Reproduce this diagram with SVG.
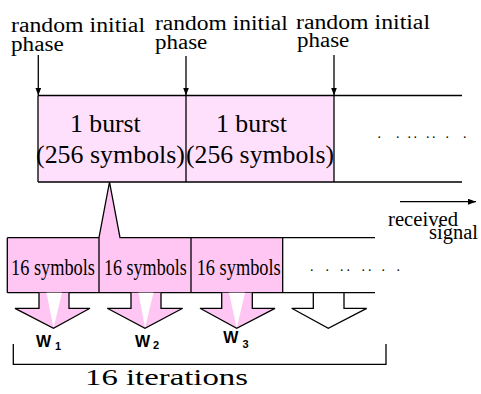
<svg xmlns="http://www.w3.org/2000/svg" width="481" height="394" viewBox="0 0 481 394">
<style>
.ln{stroke:#000;stroke-width:1.3;fill:none}
.t{font-family:'Liberation Serif','Times New Roman','DejaVu Serif',serif;fill:#000}
.w{font-family:'Liberation Sans',Arial,sans-serif;font-weight:bold;fill:#000}
.pk{fill:#ffc6f3}
</style>
<defs>
<marker id="ah" markerWidth="8" markerHeight="6" refX="8" refY="3" orient="auto" markerUnits="userSpaceOnUse">
<path d="M0,0 L8,3 L0,6 Z" fill="#000"/>
</marker>
</defs>
<rect width="481" height="394" fill="#fff"/>

<g id="labels" font-family="Liberation Serif, Times New Roman, serif">
<text class="t" font-size="20" x="11" y="32.3" textLength="134" lengthAdjust="spacingAndGlyphs">random initial</text>
<text class="t" font-size="20" x="11" y="51" textLength="52.7" lengthAdjust="spacingAndGlyphs">phase</text>
<text class="t" font-size="20" x="155" y="30" textLength="132.7" lengthAdjust="spacingAndGlyphs">random initial</text>
<text class="t" font-size="20" x="155" y="49" textLength="52.3" lengthAdjust="spacingAndGlyphs">phase</text>
<text class="t" font-size="20" x="296" y="28.5" textLength="134" lengthAdjust="spacingAndGlyphs">random initial</text>
<text class="t" font-size="20" x="297" y="47" textLength="52.3" lengthAdjust="spacingAndGlyphs">phase</text>
</g>

<g id="burst1">
<rect x="38" y="95.5" width="148" height="86.5" fill="#ffe0fc"/>
<text class="t" font-size="25" x="70" y="131.7" textLength="70.7" lengthAdjust="spacingAndGlyphs">1 burst</text>
<text class="t" font-size="25" x="36" y="162.7" textLength="149" lengthAdjust="spacingAndGlyphs">(256 symbols)</text>
</g>
<g id="burst2">
<rect x="186" y="95.5" width="148" height="86.5" fill="#ffe0fc"/>
<text class="t" font-size="25" x="216" y="131.7" textLength="71" lengthAdjust="spacingAndGlyphs">1 burst</text>
<text class="t" font-size="25" x="186" y="162.7" textLength="148" lengthAdjust="spacingAndGlyphs">(256 symbols)</text>
</g>
<g id="burst-frame">
<path class="ln" d="M38,95.5 H462 M38,182 H462 M38,95.5 V182 M186,95.5 V182 M334,95.5 V182"/>
<text class="t" font-size="14" y="137.5" x="377.5 396 407.5 413.5 426 432 445.5 463">........</text>
</g>

<g id="seg1">
<rect x="7.3" y="237.7" width="91.7" height="55" class="pk"/>
<text class="t" font-size="24" x="11" y="275" textLength="84" lengthAdjust="spacingAndGlyphs">16 symbols</text>
</g>
<g id="seg2">
<rect x="99" y="237.7" width="92" height="55" class="pk"/>
<polygon points="99,238 109.5,182 120,238" class="pk"/>
<text class="t" font-size="24" x="104" y="275" textLength="82.7" lengthAdjust="spacingAndGlyphs">16 symbols</text>
</g>
<g id="seg3">
<rect x="191" y="237.7" width="91.7" height="55" class="pk"/>
<text class="t" font-size="24" x="196.7" y="275" textLength="84" lengthAdjust="spacingAndGlyphs">16 symbols</text>
</g>
<g id="seg-frame">
<path class="ln" d="M7.3,237.7 H99 L109.5,182 L120,237.7 H375 M7.3,292.7 H375 M7.3,237.7 V292.7 M99,237.7 V292.7 M191,237.7 V292.7 M282.7,237.7 V292.7"/>
<text class="t" font-size="14" y="271" x="310 325.5 340 346.5 361.5 368 381.5 396.5">........</text>
</g>

<g id="w1">
<path d="M39,292.7 V308.3 H15 L53.5,328.3 L90,308.3 H69 V292.7 Z" class="pk"/>
<polygon points="46.5,292.7 62,292.7 53.5,328" fill="#fff"/>
<path class="ln" d="M39,292.7 V308.3 H15 L53.5,328.3 L90,308.3 H69 V292.7"/>
<text class="w" font-size="16" x="36" y="346.7">W</text>
<text class="w" font-size="11" x="55" y="350">1</text>
</g>
<g id="w2">
<path d="M131,292.7 V308.3 H107.3 L145,328.3 L182.7,308.3 H161 V292.7 Z" class="pk"/>
<polygon points="138.5,292.7 153.5,292.7 145,328" fill="#fff"/>
<path class="ln" d="M131,292.7 V308.3 H107.3 L145,328.3 L182.7,308.3 H161 V292.7"/>
<text class="w" font-size="16" x="135" y="346.7">W</text>
<text class="w" font-size="11" x="153" y="349.3">2</text>
</g>
<g id="w3">
<path d="M221.7,292.7 V308.3 H200 L236.7,328.3 L275,308.3 H252.3 V292.7 Z" class="pk"/>
<polygon points="229,292.7 245,292.7 236.7,328" fill="#fff"/>
<path class="ln" d="M221.7,292.7 V308.3 H200 L236.7,328.3 L275,308.3 H252.3 V292.7"/>
<text class="w" font-size="16" x="223.3" y="342.7">W</text>
<text class="w" font-size="11" x="242.5" y="348">3</text>
</g>
<g id="w4">
<path class="ln" fill="#fff" d="M313.3,292.7 V308.3 H291.7 L328.3,328.3 L366.7,308.3 H344 V292.7"/>
</g>

<g id="iterations">
<path class="ln" d="M13.3,344 V364.3 H386 V344"/>
<text class="t" font-size="23" x="85" y="385" textLength="163" lengthAdjust="spacingAndGlyphs">16 iterations</text>
</g>

<g id="received">
<text class="t" font-size="20" x="388" y="226" textLength="70" lengthAdjust="spacingAndGlyphs">received</text>
<text class="t" font-size="20" x="429" y="239.3" textLength="49" lengthAdjust="spacingAndGlyphs">signal</text>
</g>

<g id="connectors">
<line class="ln" x1="38.3" y1="55" x2="38.3" y2="95.5" marker-end="url(#ah)"/>
<line class="ln" x1="186" y1="56" x2="186" y2="95.5" marker-end="url(#ah)"/>
<line class="ln" x1="334" y1="55" x2="334" y2="95.5" marker-end="url(#ah)"/>
<line class="ln" x1="400" y1="201.7" x2="476" y2="201.7" stroke-width="1.6" marker-end="url(#ah)"/>
</g>
</svg>
